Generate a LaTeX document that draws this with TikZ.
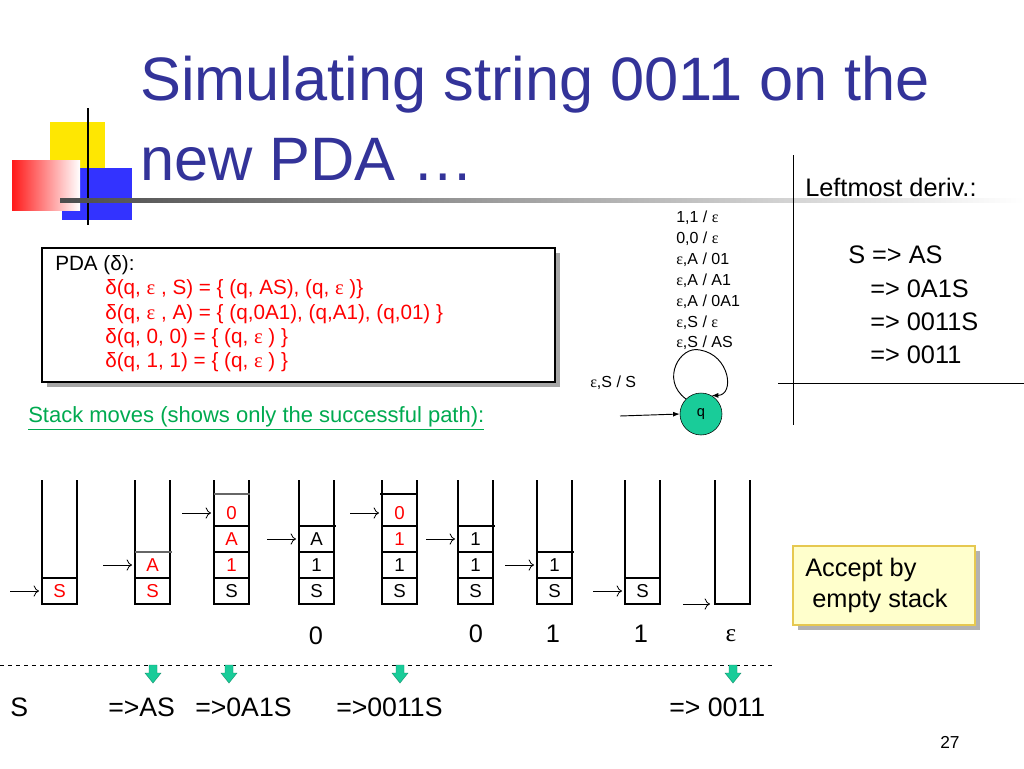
\documentclass[tikz,border=0pt]{standalone}
\usepackage{fontspec}
\setmainfont{Liberation Sans}
\newfontfamily\serf{Liberation Serif}
\usetikzlibrary{arrows.meta}
\definecolor{ttl}{RGB}{51,51,153}
\definecolor{qg}{RGB}{25,204,153}
\definecolor{mygreen}{RGB}{0,170,80}
\definecolor{accbg}{RGB}{255,255,204}
\definecolor{accbd}{RGB}{230,200,80}
\newcommand{\fs}[1]{\fontsize{#1}{#1}\selectfont}
\newcommand{\eps}{{\serf ε}}
\newcommand{\Scl}[4]{\node[cell,text=#4] at (#1+17.5,{604-13-26*#2}) {#3};}
\newcommand{\Sln}[2]{\draw[col] (#1,{604-26*#2}) -- (#1+35,{604-26*#2});}
\newcommand{\Sar}[2]{\draw[ptr] (#1-32,{604-13-26*#2}) -- (#1-3,{604-13-26*#2});}
\begin{document}
\begin{tikzpicture}[x=0.75pt,y=-0.75pt,
  tx/.style={inner sep=0,anchor=west},
  col/.style={draw,line width=0.8pt},
  cell/.style={font=\fs{14}},
  ptr/.style={-{To[length=4pt]},line width=0.6pt},
  garrow/.style={fill=qg,draw=qg!70!black,line width=0.3pt}]
\useasboundingbox (0,0) rectangle (1024,768);
\fill[white] (0,0) rectangle (1024,768);
% logo
\fill[yellow!90!orange] (50,122) rectangle (105,178);
\fill[blue!80!white] (62,168) rectangle (132,220);
\shade[left color=red!90,right color=white] (12,160) rectangle (80,210);
\draw[line width=1.5pt] (88,108) -- (88,225);
\shade[left color=black!70,right color=white] (60,198) rectangle (1024,202);
% title
\node[tx,text=ttl,font=\fs{46}] (t1) at (140,85) {Simulating string 0011 on the};
\node[tx,text=ttl,font=\fs{46}] (t2) at (140,160) {new PDA …};
% right panel
\draw[line width=0.7pt] (793,155) -- (793,425);
\draw[line width=0.7pt] (778,383) -- (1024,383);
\node[tx,font=\fs{19}] (lm) at (805,187) {Leftmost deriv.:};
\node[tx,font=\fs{19}] (d1) at (848,255) {S => AS};
\node[tx,font=\fs{19}] (d2) at (870,289) {=> 0A1S};
\node[tx,font=\fs{19}] (d3) at (870,322) {=> 0011S};
\node[tx,font=\fs{19}] (d4) at (870,355) {=> 0011};
% PDA box
\fill[black!35] (47,253) rectangle (560,387);
\draw[line width=1.6pt,fill=white] (42,248) rectangle (555,382);
\node[tx,font=\fs{15.5}] (p0) at (55,265) {PDA (δ):};
\begin{scope}[every node/.style={tx,font=\fs{15.5},text=red}]
\node (p1) at (105,289) {δ(q, \eps\ , S) = \{ (q, AS), (q, \eps\ )\}};
\node (p2) at (105,314) {δ(q, \eps\ , A) = \{ (q,0A1), (q,A1), (q,01) \}};
\node (p3) at (105,338) {δ(q, 0, 0) = \{ (q, \eps\ ) \}};
\node (p4) at (105,362) {δ(q, 1, 1) = \{ (q, \eps\ ) \}};
\end{scope}
\node[tx,font=\fs{16.5},text=mygreen] (sm) at (28,418) {\underline{Stack moves (shows only the successful path):}};
% PDA state
\node[circle,draw,fill=qg,minimum size=31.5pt,inner sep=0,font=\fs{11}] (q) at (701,414) {q};
\coordinate (qin) at (620,416);
\draw[-{Latex[length=5pt]},line width=0.7pt] (qin) -- (q.west);
\draw[-{Latex[length=5pt]},line width=0.7pt] (q.135) .. controls (660,380) and (680,345) .. (700,350) .. controls (730,355) and (735,395) .. (q.60);
\begin{scope}[every node/.style={tx,font=\fs{12}}]
\node at (676,218) {1,1 / \eps};
\node at (676,239) {0,0 / \eps};
\node at (676,260) {\eps,A / 01};
\node at (676,281) {\eps,A / A1};
\node at (676,302) {\eps,A / 0A1};
\node at (676,323) {\eps,S / \eps};
\node at (676,343) {\eps,S / AS};
\node at (590,383) {\eps,S / S};
\end{scope}
% stacks
\foreach \x in {42,135,214,299,382,458,537,625,715}{
  \draw[col] (\x,480) -- (\x,604) -- (\x+35,604) -- (\x+35,480);}
% col1
\Sln{42}{1}\Scl{42}{0}{S}{red}\Sar{42}{0}
% col2
\Sln{135}{1}\draw[col,black!60] (135,552) -- (172,552);\Scl{135}{0}{S}{red}\Scl{135}{1}{A}{red}\Sar{135}{1}
% col3
\Sln{214}{1}\Sln{214}{2}\Sln{214}{3}\draw[col,black!60] (214,494) -- (250,494);
\Scl{214}{0}{S}{black}\Scl{214}{1}{1}{red}\Scl{214}{2}{A}{red}\Scl{214}{3}{0}{red}\Sar{214}{3}
% col4
\Sln{299}{1}\Sln{299}{2}\draw[col] (299,526) -- (336,526);
\Scl{299}{0}{S}{black}\Scl{299}{1}{1}{black}\Scl{299}{2}{A}{black}\Sar{299}{2}
% col5
\Sln{382}{1}\Sln{382}{2}\Sln{382}{3}\draw[col] (380,494) -- (417,494);
\Scl{382}{0}{S}{black}\Scl{382}{1}{1}{black}\Scl{382}{2}{1}{red}\Scl{382}{3}{0}{red}\Sar{382}{3}
% col6
\Sln{458}{1}\Sln{458}{2}\draw[col] (458,526) -- (495,526);
\Scl{458}{0}{S}{black}\Scl{458}{1}{1}{black}\Scl{458}{2}{1}{black}\Sar{458}{2}
% col7
\Sln{537}{1}\draw[col] (537,552) -- (574,552);
\Scl{537}{0}{S}{black}\Scl{537}{1}{1}{black}\Sar{537}{1}
% col8
\Sln{625}{1}\Scl{625}{0}{S}{black}\Sar{625}{0}
% col9
\draw[ptr] (683,604) -- (710,604);
% inputs
\begin{scope}[every node/.style={font=\fs{19}}]
\node at (316,636) {0};
\node at (476,634) {0};
\node at (553,634) {1};
\node at (641,634) {1};
\node at (731,636) {\eps};
\end{scope}
\draw[dashed,line width=0.6pt] (0,665) -- (775,665);
\foreach \x in {153,229,400,733}{
  \fill[garrow] (\x-4,665) -- (\x+4,665) -- (\x+4,673) -- (\x+8,673) -- (\x,683) -- (\x-8,673) -- (\x-4,673) -- cycle;}
\begin{scope}[every node/.style={tx,font=\fs{20}}]
\node at (10,707) {S};
\node at (108,707) {=>AS};
\node at (195,707) {=>0A1S};
\node at (336,707) {=>0011S};
\node at (669,707) {=> 0011};
\end{scope}
% accept box
\fill[black!30] (798,551) rectangle (980,630);
\draw[accbd,fill=accbg,line width=0.8pt] (793,546) rectangle (975,625);
\node[tx,font=\fs{19},align=left,anchor=north west] (acc) at (805,558) {Accept by\\[4pt] \ empty stack};
\node[tx,font=\fs{13}] at (940,742) {27};
\end{tikzpicture}
\end{document}
